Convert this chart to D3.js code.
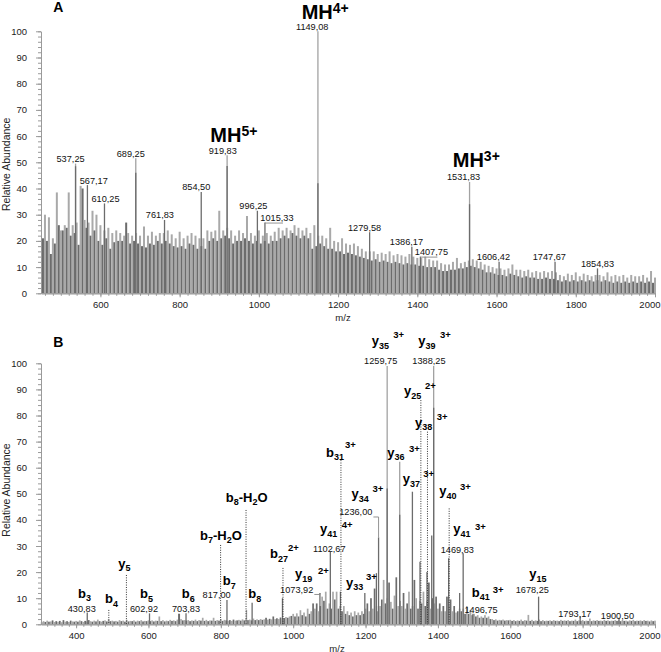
<!DOCTYPE html>
<html><head><meta charset="utf-8">
<script src="https://cdn.jsdelivr.net/npm/d3@7"></script>
<style>
body{margin:0;background:#fff}
svg{display:block}
text{font-family:"Liberation Sans",Arial,Helvetica,sans-serif}
</style>
</head><body>
<svg id="chart" width="661" height="652"></svg>
<script>
// ================= DATA =================
// ---- Panel A : full MS spectrum ----
const noiseStartA = 455, noiseStepA = 5;   // m/z of first bar, spacing
const noiseA = [
 21,30,20,29,15,21,19,38.5,26,24,24,26,25,38.5,22,26,23,27,18.5,41,
 40,28,25,27,22,31.5,24,30,20,26,18.5,24,21,25,17,23,19.5,24,20,23,
 20,22,27,23,19,22,20,23,19,22,18,25.5,17.5,22,19,23.5,18.5,22,20,23,
 19,23,20,24,19,22.5,18,21,17.5,23.5,18,21,17,22,19,23,18.5,22,17,21,
 18,21,17,24,20,23.5,21,24,20,31.5,21,24,22,25,21,24,19,22,20,24,
 20,23,21,29.5,20,23,19,22,20,24,19,22,20,23,19,22,20,23.5,20,25,
 21,24,22,25,21,24,23,26,22,25,21,24,22,25,21,23,17,26,18,22,
 19,22,18,21,17,25,17,20,16,19.5,16,21,15,19,15.5,18.5,15,19,14.5,18,
 14,17,13.5,16,13,16,12.5,16,13,15,12,15.5,12.5,15,12,16,11.5,14.5,12,15,
 11.5,14.5,11,14,11.5,15,11,14,11,13.5,10.5,13.5,10.5,14,10,13,10,12.5,10,12.5,
 9,11.5,8.5,11,8.5,11,9,12,9,13.5,9.5,11.5,9.5,12,10,12.5,10.5,13,10,12.5,
 9.5,12,9,11,8,10.5,8,10,7.5,9.5,7,9.5,7,9,6.5,9.5,7.5,11,7,9,
 6.5,9,6,8.5,6.5,9,6,8,6,8.5,5.5,8,5.5,8.5,6,8,5.5,8.5,5.5,8,
 5,7,4.5,6.5,5,7.5,4.5,7,5,8,4.5,6.5,5,7.5,4.5,7,5,6.5,4.5,7,
 5,7,4.5,6.5,5,8,4.5,6.5,4,7,4.5,6.5,4,7,4.5,6,4,7,4.5,6.5,
 4,6.5,4.5,7,4,6,4.5,8.5,4,6
];
const peakMzA   = [537.25,567.17,610.25,689.25,761.83,854.50,919.83,996.25,1015.33,1149.08,1279.58,1386.17,1407.75,1531.83,1606.42,1747.67,1854.83];
const peakTopA  = [49.5,41.3,34.3,51.5,28,38.7,52.7,31.5,27,100,23.3,17.8,14,42.5,12,12,9.5];
const peakCoreA = [48.5,41.3,34.3,46,28,38.7,48.6,31.5,27,42,23.3,17.8,14,34,12,12,9.5];
const precursorMzA     = [919.83,1149.08,1531.83];
const precursorChargeA = ['5+','4+','3+'];
const xTicksA = [600,800,1000,1200,1400,1600,1800,2000];

// ---- Panel B : MS/MS spectrum ----
const noiseStartB = 305, noiseStepB = 5;
const noiseB = [
 0.8,1.2,0.9,1.4,1,1.1,1.5,0.9,1.2,1,1.3,0.8,1.6,1,1.2,0.9,1.4,1.1,1,1.3,
 1,1.5,1.2,0.9,1.3,1.1,1.6,1.2,1,1.4,1.1,1.8,1.2,1,1.3,1.5,1.1,2,1.2,1.4,
 1.1,1.3,1,1.6,1.2,1.4,1,1.7,1.1,1.3,1.2,1.5,1,1.4,1.2,1.6,1.1,1.3,1.2,1.5,
 1.2,1.5,1.1,1.4,1.3,3,1.2,1.6,1.1,1.4,1.2,1.7,1.3,1.5,1.2,1.8,4,2,1.5,1.6,
 1.4,1.6,1.2,1.5,1.3,1.8,1.2,1.6,1.4,2.5,1.3,1.7,1.2,1.5,1.4,2.5,1.3,1.6,1.4,2,
 1.3,1.7,1.5,1.4,1.6,1.3,1.8,1.4,1.5,1.7,1.4,1.9,1.5,2,1.6,1.8,1.5,2.2,1.6,1.9,
 1.6,2,1.7,1.9,2.5,1.8,2.1,1.9,3,2,2.3,2,2.6,2.2,2.4,2.8,2.5,3,3.2,4,
 3,4.2,3,5.4,3.5,4.5,3,6,4,5,8,6,8,5,7,10.6,9,12.5,6,8,
 6,12.5,9.5,12.5,6,7,5,7,4,5,3.5,4.5,3,5,3.5,4.5,3.5,5,4,6,
 8,5,10,6,13.7,7,5,7,9.5,17,8,10,16,8.6,6,11,18,7,9,7,
 12,6,8,12.5,6,7,17,10,6,9,8,12.5,7,9,16,6,10,8,10.6,6,
 8,5,7,5,10.6,7,9.5,5,7,4.5,5,6,5,6,4,7,4,5.5,3.5,4,
 3,3.5,2.5,3,2.5,3.5,2.5,3,2,2,1.6,1.9,1.4,1.7,1.5,1.8,1.4,1.6,1.5,1.7,
 1.3,1.6,1.2,1.5,1.3,1.8,1.2,1.6,1.4,3.6,1.3,1.7,1.2,1.5,1.3,1.8,1.2,1.6,1.2,1.4,
 1.3,1.5,1.2,1.6,1.3,1.4,1.2,1.7,1.3,1.5,1.3,1.6,1.2,1.4,1.3,1.8,1.2,1.5,1.3,1.6,
 1.2,1.4,1.3,2.2,1.2,1.5,1.3,1.6,1.3,1.4,1.2,1.7,1.3,1.5,1.2,1.4,1.3,1.6,1.3,1.5,
 1.2,1.6,1.3,1.4,1.1,1.5,1.3,1.7,1.2,1.4,1.3,1.5,1.2,1.6,1.3,1.4,1.1,1.5,1.2,1.4
];
const peakMzB   = [430.83,602.92,684,703.83,817.00,871,886.5,970.4,1073.92,1102.67,1130.6,1198,1230,1236.00,1259.75,1294.4,1329.5,1350.5,1369.8,1382.9,1388.25,1429.7,1460,1469.83,1496.75,1678.25,1793.17,1900.50];
const peakTopB  = [4.5,4.2,4,4.2,9.3,5.5,8.3,10,12,27.8,12.5,12,19.6,33.3,99,62.3,50.8,24,20,34,99,25.3,12,27.2,4,10.6,3,2.5];
const peakCoreB = [4.5,4.2,4,4.2,9.3,0,8.3,10,12,27.8,12.5,12,19.6,33.3,52,42,50.8,24,20,34,83,25.3,12,27.2,4,10.6,3,2.5];
const labelMzB  = [430.83,602.92,703.83,817.00,1073.92,1102.67,1236.00,1259.75,1388.25,1469.83,1496.75,1678.25,1793.17,1900.50];
// fragment ion annotations
const ionType   = ['b','b','y','b','b','b','b','b','b','b','y','y','b','y','y','y','y','y','y','y','y','y','y','b','y'];
const ionNum    = ['3','4','5','5','6','7','7','8','8','27','19','41','31','34','33','35','39','25','38','36','37','40','41','41','15'];
const ionLoss   = ['','','','','','H2O','','H2O','','','','','','','','','','','','','','','','',''];
const ionCharge = ['','','','','','','','','','2+','2+','4+','3+','3+','3+','3+','3+','2+','3+','3+','3+','3+','3+','3+',''];
const ionMz     = [430.83,489,537.7,602.92,703.83,798,817,868.3,886.5,970.4,1073.92,1102.67,1130.6,1236,1198,1259.75,1388.25,1351.5,1369.8,1294.4,1329.5,1429.7,1469.83,1496.75,1678.25];
const ionLevel  = [4.5,5.5,18.9,4.2,4.2,30.4,9.3,43.8,8.3,21.6,12,27.8,62.9,33.3,12,99,99,85.9,73.8,62.3,50.8,44.4,27.2,4,10.6];
const ionDotted = [0,1,1,0,0,1,0,1,0,1,0,0,1,0,0,0,0,1,1,0,0,1,0,0,0];
const xTicksB = [400,600,800,1000,1200,1400,1600,1800,2000];
const yTicks = [0,10,20,30,40,50,60,70,80,90,100];

// ================= LAYOUT (pixel nudges, not data) =================
const labelDxA = [-5,6.3,1,-5,-4.6,-5,-4.4,-4,12,-5.7,-5,-5.4,11,-6,-5.7,-5.7,0];
const leaderA  = [0,0,0,0,0,0,0,0,1,0,0,0,1,0,0,0,0];
const precNudge = [[-16.8,-13],[-16.3,-12.5],[-16.8,-14.5]];
const labelNudgeB = [[-5.5,-0.7],[-5.5,-1.4],[0,-1.4],[-10.3,-1.8],[-23.2,0],[-1,0],[-22.8,-21.9],[-6.5,-2],[-4.7,-2],[-5.9,-0.8],[8.1,-0.7],[-6.3,-3.4],[-5.3,1],[-1.6,1]];
const leaderB = [0,0,0,0,1,0,1,0,0,0,0,0,0,0];
const ionNudge = [
 [-9.3,-14.6],[-3.3,-6.9],[-7.6,-7],[-9.5,-15.3],[-4.3,-15.3],[-20.1,-5],[-4.3,-15],[-19.8,-8.3],[-3.8,-4.6],
 [-12.5,-9.9,5.5,-17.4],[-24.9,-14.7,-1.9,-18.7],[-10.3,-18.4,11.4,-23.4],[-14.4,-3.4,4.6,-11.8],
 [-27.1,-39.1,-6.1,-45.8],[-18.8,-6.3,1.2,-13],[-15.5,-20.9,6.1,-27.6],[-15.4,-20.9,6.3,-27.6],
 [-16.4,-5.1,4.6,-11.1],[-12,-5,9.7,-11.7],[-12.4,-5,9.3,-10.1],[-9.7,-8.4,10.9,-14.4],
 [-9.4,-13.4,11.3,-18.4],[-9.9,-20,11.8,-23.3],[-1.2,-17.2,19.8,-20.6],[-9.3,-18.3]
];

// ================= DRAW =================
const svg = d3.select('#chart');
const DARK = '#6c6c6c', LIGHT = '#a9a9a9', PEAKLIGHT = '#a2a2a2', AXIS = '#9a9a9a';
const fmt = v => d3.format('.2f')(v).replace('.', ',');

const xA = d3.scaleLinear().domain([450,2000]).range([41,655]);
const yA = d3.scaleLinear().domain([0,100]).range([293.3,31.3]);
const xB = d3.scaleLinear().domain([303,2000]).range([41,655]);
const yB = d3.scaleLinear().domain([0,100]).range([624.3,363.3]);

function drawSpectrum(x, y, noise, start, step, barW, pMz, pTop, pCore) {
  const g = svg.append('g');
  g.append('g').selectAll('rect').data(noise).join('rect')
    .attr('x', (v,i) => x(start + step*i) - barW/2)
    .attr('width', barW)
    .attr('y', v => y(v))
    .attr('height', v => y(0) - y(v))
    .attr('fill', (v,i) => i % 2 ? LIGHT : DARK);
  const peaks = pMz.map((mz,i) => ({mz, top:pTop[i], core:pCore[i]}));
  g.append('g').selectAll('line').data(peaks.filter(d => d.top > d.core)).join('line')
    .attr('x1', d => x(d.mz)).attr('x2', d => x(d.mz))
    .attr('y1', y(0)).attr('y2', d => y(d.top))
    .attr('stroke', PEAKLIGHT).attr('stroke-width', 1.3);
  g.append('g').selectAll('line').data(peaks.filter(d => d.core > 0)).join('line')
    .attr('x1', d => x(d.mz)).attr('x2', d => x(d.mz))
    .attr('y1', y(0)).attr('y2', d => y(d.core))
    .attr('stroke', DARK).attr('stroke-width', 1.3);
}

function drawAxes(x, y, xTicks, minorFrom, mzX, mzY, relY, letter, letterY) {
  const x0 = x.range()[0];
  const styleAxis = g => {
    g.select('.domain').attr('stroke', AXIS);
    g.selectAll('.tick line').attr('stroke', AXIS);
    g.selectAll('.tick text').attr('fill', '#222').attr('font-size', 9.5);
  };
  svg.append('g').attr('transform', `translate(${x0},0)`)
    .call(d3.axisLeft(y).tickValues(d3.range(0,101,2)).tickSize(3).tickSizeOuter(0).tickFormat(''))
    .call(styleAxis);
  svg.append('g').attr('transform', `translate(${x0},0)`)
    .call(d3.axisLeft(y).tickValues(yTicks).tickSize(5).tickSizeOuter(0).tickPadding(9).tickFormat(d3.format('d')))
    .call(styleAxis);
  svg.append('g').attr('transform', `translate(0,${y(0)})`)
    .call(d3.axisBottom(x).tickValues(d3.range(minorFrom,2001,20)).tickSize(2.5).tickSizeOuter(0).tickFormat(''))
    .call(styleAxis);
  svg.append('g').attr('transform', `translate(0,${y(0)})`)
    .call(d3.axisBottom(x).tickValues(xTicks).tickSize(4).tickSizeOuter(0).tickPadding(4).tickFormat(d3.format('d')))
    .call(styleAxis)
    .call(g => g.selectAll('.tick text').filter(d => d === 2000).attr('text-anchor','end').attr('x', 5));
  svg.append('text').attr('x', mzX).attr('y', mzY).attr('text-anchor','middle')
    .attr('font-size', 9.5).attr('fill','#222').text('m/z');
  svg.append('text').attr('transform', `translate(9.5,${relY}) rotate(-90)`)
    .attr('text-anchor','middle').attr('font-size', 10.5).attr('fill','#222').text('Relative Abundance');
  svg.append('text').attr('x', 53.3).attr('y', letterY).attr('font-size', 14)
    .attr('font-weight','bold').attr('fill','#000').text(letter);
}

function numLabel(g, cx, base, mz) {
  return g.append('text').attr('x', cx).attr('y', base).attr('text-anchor','middle')
    .attr('font-size', 9.2).attr('fill','#111').text(fmt(mz));
}

// ---------- Panel A ----------
drawSpectrum(xA, yA, noiseA, noiseStartA, noiseStepA, 2.0, peakMzA, peakTopA, peakCoreA);
drawAxes(xA, yA, xTicksA, 460, 343, 320.5, 164.3, 'A', 11.7);
const gA = svg.append('g');
peakMzA.forEach((mz,i) => {
  const px = xA(mz), py = yA(peakTopA[i]);
  const cx = px + labelDxA[i];
  numLabel(gA, cx, py - 1.5, mz);
  if (leaderA[i]) {
    gA.append('line').attr('x1', px).attr('x2', cx + 6).attr('y1', py + 0.5).attr('y2', py + 0.5)
      .attr('stroke', '#888').attr('stroke-width', 0.9);
  }
});
precursorMzA.forEach((mz,i) => {
  const k = peakMzA.indexOf(mz);
  const px = xA(mz), py = yA(peakTopA[k]);
  const t = gA.append('text').attr('x', px + precNudge[i][0]).attr('y', py + precNudge[i][1])
    .attr('font-weight','bold').attr('font-size', 20).attr('fill','#000');
  t.append('tspan').text('MH');
  t.append('tspan').attr('font-size', 14).attr('dy', -6).text(precursorChargeA[i]);
});

// ---------- Panel B ----------
drawSpectrum(xB, yB, noiseB, noiseStartB, noiseStepB, 1.7, peakMzB, peakTopB, peakCoreB);
drawAxes(xB, yB, xTicksB, 320, 337, 651.5, 490, 'B', 346.7);
const gB = svg.append('g');
// dotted assignment lines
ionMz.forEach((mz,i) => {
  if (!ionDotted[i]) return;
  gB.append('line').attr('x1', xB(mz) + 0.5).attr('x2', xB(mz) + 0.5)
    .attr('y1', yB(ionLevel[i])).attr('y2', yB(0))
    .attr('stroke', '#333').attr('stroke-width', 1).attr('stroke-dasharray', '1,1.4');
});
// m/z value labels
labelMzB.forEach((mz,i) => {
  const k = peakMzB.indexOf(mz);
  const px = xB(mz), py = yB(peakTopB[k]);
  const cx = px + labelNudgeB[i][0], base = py + labelNudgeB[i][1];
  const t = numLabel(gB, cx, base, mz);
  if (leaderB[i]) {
    const w = t.node().getComputedTextLength();
    const right = cx + w/2 + 1, ly = base + 1.5;
    gB.append('polyline')
      .attr('points', [[right, ly],[px, ly],[px, py]].map(p => p.join(',')).join(' '))
      .attr('fill','none').attr('stroke','#888').attr('stroke-width',0.9);
  }
});
// ion labels
ionType.forEach((tp,i) => {
  const ax = xB(ionMz[i]), ay = yB(ionLevel[i]);
  const n = ionNudge[i];
  const t = gB.append('text').attr('x', ax + n[0]).attr('y', ay + n[1])
    .attr('font-weight','bold').attr('font-size', 13).attr('fill','#000');
  t.append('tspan').text(tp);
  t.append('tspan').attr('font-size', 9).attr('dy', 3.5).text(ionNum[i]);
  if (ionLoss[i] === 'H2O') {
    t.append('tspan').attr('dy', -3.5).text('-H');
    t.append('tspan').attr('font-size', 9).attr('dy', 3.5).text('2');
    t.append('tspan').attr('dy', -3.5).text('O');
  }
  if (ionCharge[i]) {
    gB.append('text').attr('x', ax + n[2]).attr('y', ay + n[3])
      .attr('font-weight','bold').attr('font-size', 9.5).attr('fill','#000').text(ionCharge[i]);
  }
});
</script>
</body></html>
